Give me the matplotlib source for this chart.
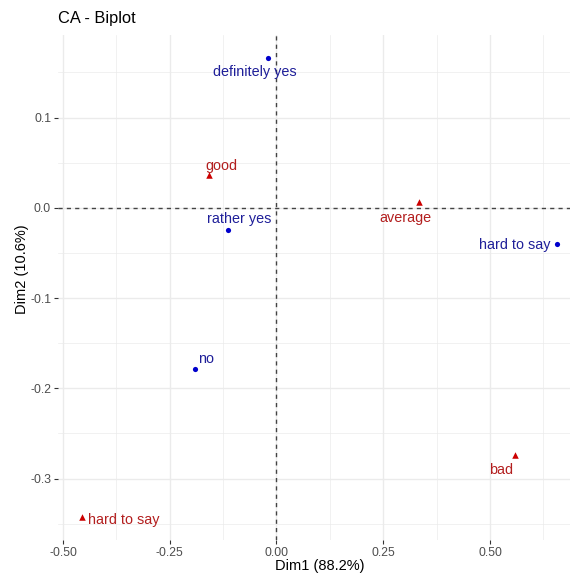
import matplotlib
matplotlib.use("Agg")
import matplotlib.pyplot as plt
import numpy as np

plt.rcParams['font.family'] = ['Liberation Sans', 'DejaVu Sans']

# Row points (blue)
row_names = ["definitely yes", "rather yes", "no", "hard to say"]
row_dim1 = [-0.021, -0.114, -0.192, 0.658]
row_dim2 = [0.166, -0.024, -0.179, -0.040]

# Column points (red)
col_names = ["good", "average", "bad", "hard to say"]
col_dim1 = [-0.157, 0.334, 0.558, -0.456]
col_dim2 = [0.036, 0.006, -0.274, -0.343]

title = "CA - Biplot"
xlabel = "Dim1 (88.2%)"
ylabel = "Dim2 (10.6%)"
xticks = [-0.50, -0.25, 0.00, 0.25, 0.50]
yticks = [-0.3, -0.2, -0.1, 0.0, 0.1]

# label offsets in pixels (text centre relative to point)
row_offsets = [(-12.7, -13.7), (11.8, 10.7), (11.9, 10.0), (-42.6, -1.0)]
col_offsets = [(11.5, 9.0), (-13.8, -15.6), (-13.9, -14.6), (42.1, -3.0)]

blue_pt = "#0000CC"
blue_txt = "#1F1F99"
red_pt = "#CC0000"
red_txt = "#B31F1F"

fig = plt.figure(figsize=(5.72, 5.78), dpi=100)
ax = fig.add_axes([58/572, 38/578, 512/572, 505/578])

ax.set_xlim(-0.5117, 0.6874)
ax.set_ylim(-0.368, 0.1915)

# grid
for v in xticks:
    ax.axvline(v, color="#EBEBEB", lw=1.0, zorder=0)
for v in np.arange(-0.625, 0.7, 0.25):
    ax.axvline(v, color="#EBEBEB", lw=0.5, zorder=0)
for v in yticks:
    ax.axhline(v, color="#EBEBEB", lw=1.0, zorder=0)
for v in np.arange(-0.35, 0.2, 0.1):
    ax.axhline(v, color="#EBEBEB", lw=0.5, zorder=0)

ax.axhline(0, color="#444444", lw=1.0, ls=(0, (3, 3)), zorder=1)
ax.axvline(0, color="#444444", lw=1.0, ls=(0, (3, 3)), zorder=1)

ax.scatter(row_dim1, row_dim2, s=14, color=blue_pt, marker="o", zorder=3, linewidths=0)
ax.scatter(col_dim1, col_dim2, s=22, color=red_pt, marker="^", zorder=3, linewidths=0)

for name, x, y, (dx, dy) in zip(row_names, row_dim1, row_dim2, row_offsets):
    ax.annotate(name, (x, y), xytext=(dx, dy), textcoords="offset pixels",
                ha="center", va="center", color=blue_txt, fontsize=10.4)
for name, x, y, (dx, dy) in zip(col_names, col_dim1, col_dim2, col_offsets):
    ax.annotate(name, (x, y), xytext=(dx, dy), textcoords="offset pixels",
                ha="center", va="center", color=red_txt, fontsize=10.4)

for s in ax.spines.values():
    s.set_visible(False)

ax.set_xticks(xticks)
ax.set_xticklabels(["-0.50", "-0.25", "0.00", "0.25", "0.50"])
ax.set_yticks(yticks)
ax.set_yticklabels(["-0.3", "-0.2", "-0.1", "0.0", "0.1"])
ax.tick_params(axis="both", length=3, width=0.8, color="#333333", labelsize=8.8,
               labelcolor="#4D4D4D", pad=2)

ax.set_xlabel(xlabel, fontsize=10.5, color="black")
ax.set_ylabel(ylabel, fontsize=10.5, color="black")
ax.xaxis.set_label_coords((320-58)/512, -(562-543)/505)
ax.yaxis.set_label_coords(-(58-29)/512, (543-272)/505)

fig.text(58/572, 1-18/578, title, fontsize=11.8, ha="left", va="center", color="black")

fig.savefig("out.png", dpi=100)
